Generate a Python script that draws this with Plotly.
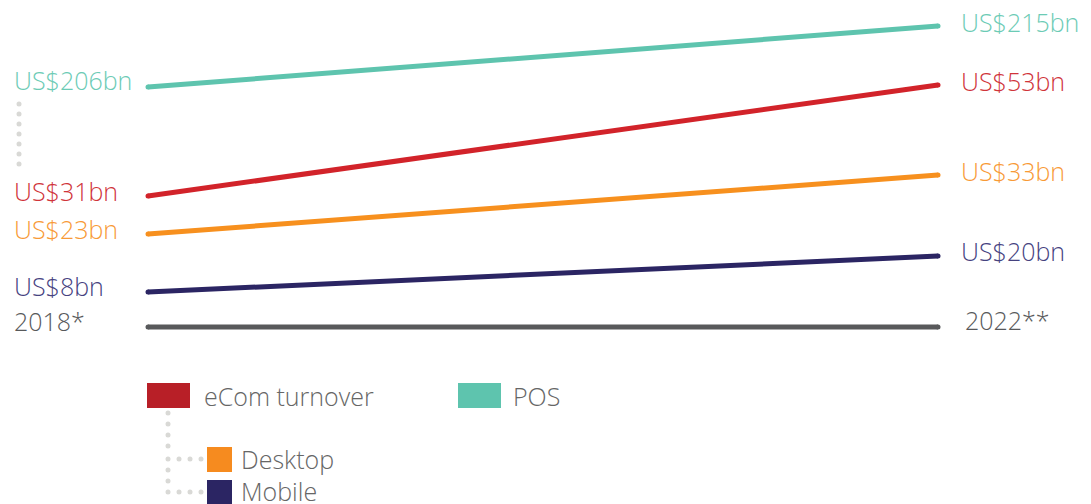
import plotly.graph_objects as go

# ---- data ----
years = [2018, 2022]
series_names = ["POS", "eCom turnover", "Desktop", "Mobile"]
pos_values = [206, 215]
ecom_values = [31, 53]
desktop_values = [23, 33]
mobile_values = [8, 20]
year_labels = ["2018*", "2022**"]

# ---- styles / layout ----
W, H = 1091, 504
colors = {"POS": "#5EC4AE", "eCom turnover": "#D2232A", "Desktop": "#F7901E", "Mobile": "#2B2563"}
text_colors = {"POS": "#6CCBB5", "eCom turnover": "#D0343A", "Desktop": "#F89A36", "Mobile": "#46427F"}
legend_colors = {"POS": "#5EC4AE", "eCom turnover": "#B81F27", "Desktop": "#F68B1F", "Mobile": "#2B2563"}
FONT = "Open Sans"
FW = 300
FS = 25

# schematic (per-series) vertical scales: pixel rows for the start and end values
pix_rows = {"POS": (87, 26), "eCom turnover": (196, 85), "Desktop": (234, 175), "Mobile": (292, 256)}
values = {"POS": pos_values, "eCom turnover": ecom_values, "Desktop": desktop_values, "Mobile": mobile_values}
axis_ids = {"POS": "y", "eCom turnover": "y2", "Desktop": "y3", "Mobile": "y4"}

def yrange(v, p):
    s = (p[0] - p[1]) / (v[1] - v[0])
    return [v[0] - (H - p[0]) / s, v[0] + p[0] / s]

x0_px, x1_px = 148, 938
per_year = (x1_px - x0_px) / (years[1] - years[0])
xrange_ = [years[0] - x0_px / per_year, years[1] + (W - x1_px) / per_year]

fig = go.Figure()

for name in series_names:
    fig.add_trace(go.Scatter(
        x=years, y=values[name], mode="lines+markers",
        line=dict(color=colors[name], width=5),
        marker=dict(color=colors[name], size=5),
        yaxis=axis_ids[name], xaxis="x", showlegend=False, hoverinfo="skip"))

# timeline baseline
fig.add_trace(go.Scatter(
    x=years, y=[0, 0], mode="lines+markers",
    line=dict(color="#58595B", width=5), marker=dict(color="#58595B", size=5),
    yaxis="y5", xaxis="x", showlegend=False, hoverinfo="skip"))

layout = dict(
    width=W, height=H, margin=dict(l=0, r=0, t=0, b=0),
    paper_bgcolor="white", plot_bgcolor="white", showlegend=False,
    xaxis=dict(range=xrange_, visible=False, domain=[0, 1]),
    xaxis2=dict(range=[0, W], visible=False, domain=[0, 1], anchor="y6", overlaying="x"),
    yaxis6=dict(range=[H, 0], visible=False, domain=[0, 1], anchor="x2", overlaying="y"),
    yaxis5=dict(range=[-(H - 327) / 100, 327 / 100], visible=False, overlaying="y"),
)
for name in series_names:
    key = "yaxis" + axis_ids[name][1:]
    d = dict(range=yrange(values[name], pix_rows[name]), visible=False, domain=[0, 1])
    if axis_ids[name] != "y":
        d["overlaying"] = "y"
    layout[key] = d
fig.update_layout(**layout)

# value labels
shift_left = {"POS": 7, "eCom turnover": 5, "Desktop": 5, "Mobile": 6}
shift_right = {"POS": 4, "eCom turnover": 4, "Desktop": 4, "Mobile": 5}
annotations = []
for name in series_names:
    v = values[name]
    annotations.append(dict(xref="paper", x=12 / W, yref=axis_ids[name], y=v[0], yshift=shift_left[name],
                            text=f"US${v[0]}bn", showarrow=False, xanchor="left", yanchor="middle",
                            font=dict(family=FONT, size=FS, color=text_colors[name], weight=FW)))
    annotations.append(dict(xref="paper", x=959 / W, yref=axis_ids[name], y=v[1], yshift=shift_right[name],
                            text=f"US${v[1]}bn", showarrow=False, xanchor="left", yanchor="middle",
                            font=dict(family=FONT, size=FS, color=text_colors[name], weight=FW)))
annotations.append(dict(xref="paper", x=12 / W, yref="y5", y=0, yshift=6, text=year_labels[0],
                        showarrow=False, xanchor="left", yanchor="middle",
                        font=dict(family=FONT, size=FS, color="#58595B", weight=FW)))
annotations.append(dict(xref="paper", x=963 / W, yref="y5", y=0, yshift=7, text=year_labels[1],
                        showarrow=False, xanchor="left", yanchor="middle",
                        font=dict(family=FONT, size=FS, color="#58595B", weight=FW)))

# legend (pixel overlay)
legend_items = [
    ("eCom turnover", (147, 383, 190, 408), 202, 396),
    ("POS", (458, 383, 501, 408), 511, 396),
    ("Desktop", (207, 447, 232, 472), 239, 459),
    ("Mobile", (207, 480, 232, 505), 239, 491),
]
shapes = []
for name, (ax0, ay0, ax1, ay1), tx, ty in legend_items:
    shapes.append(dict(type="rect", xref="x2", yref="y6", x0=ax0, y0=ay0, x1=ax1, y1=ay1,
                       fillcolor=legend_colors[name], line=dict(width=0)))
    annotations.append(dict(xref="x2", yref="y6", x=tx, y=ty, text=name, showarrow=False,
                            xanchor="left", yanchor="middle",
                            font=dict(family=FONT, size=FS, color="#666666", weight=FW)))

fig.update_layout(shapes=shapes, annotations=annotations)

# dotted connectors
dot_x = [19] * 7 + [168] * 8 + [179, 190, 201] + [179, 190, 201]
dot_y = [104, 114, 124, 134, 144, 154, 164] + [413, 424, 435, 446, 459, 470, 481, 492] + [459] * 3 + [492] * 3
fig.add_trace(go.Scatter(x=dot_x, y=dot_y, xaxis="x2", yaxis="y6", mode="markers",
                         marker=dict(color="#D9D9D6", size=5), showlegend=False, hoverinfo="skip"))

fig.write_html("out.html", config={"displayModeBar": False},
               post_script="document.body.style.margin='0';document.body.style.overflow='hidden';")
